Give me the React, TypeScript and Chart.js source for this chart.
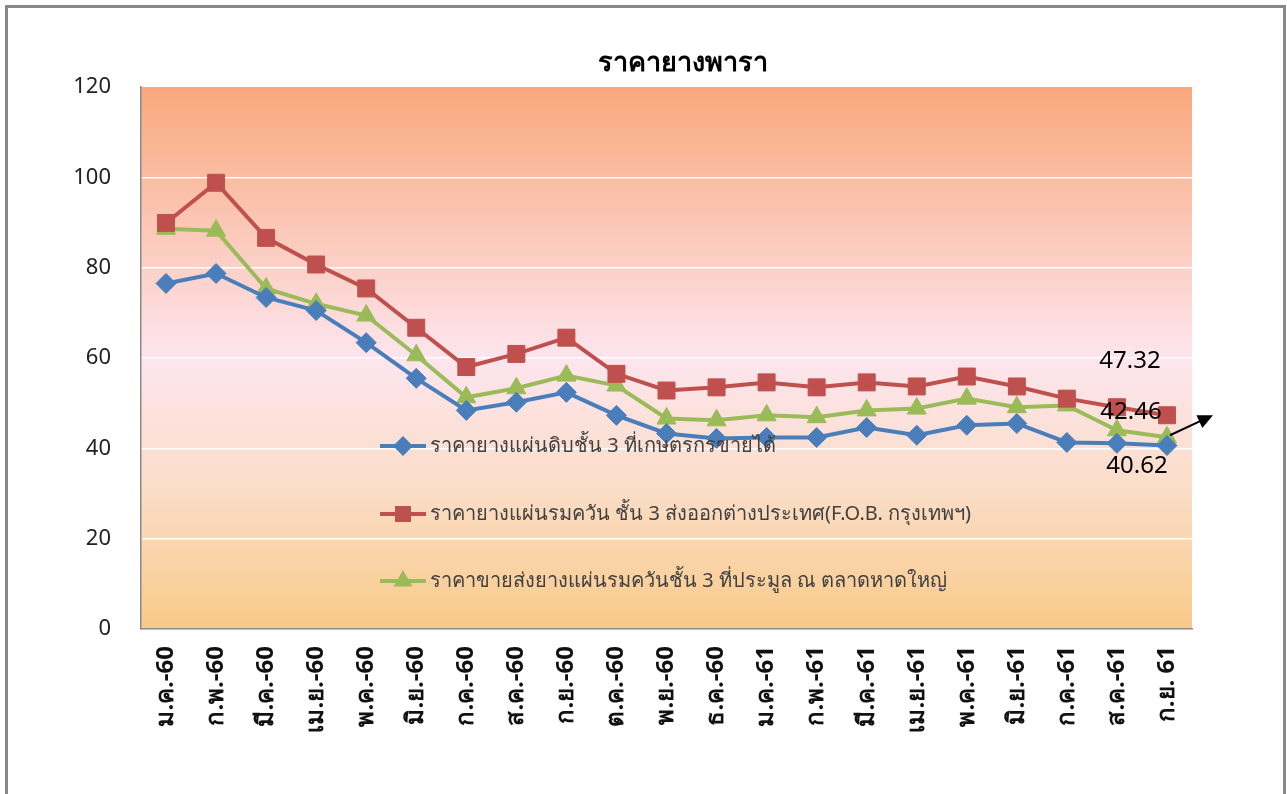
import React, { useEffect, useRef } from "react";
import { Chart, registerables } from "chart.js";
Chart.register(...registerables);

const categories = [
  "ม.ค.-60", "ก.พ.-60", "มี.ค.-60", "เม.ย.-60", "พ.ค.-60", "มิ.ย.-60", "ก.ค.-60",
  "ส.ค.-60", "ก.ย.-60", "ต.ค.-60", "พ.ย.-60", "ธ.ค.-60", "ม.ค.-61", "ก.พ.-61",
  "มี.ค.-61", "เม.ย.-61", "พ.ค.-61", "มิ.ย.-61", "ก.ค.-61", "ส.ค.-61", "ก.ย. 61",
];

const farmerPrice = [76.5, 78.7, 73.4, 70.5, 63.4, 55.5, 48.4, 50.2, 52.4, 47.3, 43.3, 42.2, 42.4, 42.4, 44.6, 42.9, 45.1, 45.5, 41.3, 41.1, 40.62];
const fobPrice = [89.9, 98.8, 86.6, 80.7, 75.4, 66.7, 58.0, 60.9, 64.5, 56.5, 52.8, 53.5, 54.6, 53.5, 54.6, 53.7, 55.9, 53.7, 51.0, 49.1, 47.32];
const hatyaiPrice = [88.6, 88.2, 75.4, 72.0, 69.4, 60.6, 51.3, 53.3, 56.1, 53.9, 46.6, 46.2, 47.3, 46.9, 48.4, 48.8, 51.0, 49.1, 49.5, 44.0, 42.46];

const seriesNames = [
  "ราคายางแผ่นดิบชั้น 3 ที่เกษตรกรขายได้",
  "ราคายางแผ่นรมควัน ชั้น 3 ส่งออกต่างประเทศ(F.O.B. กรุงเทพฯ)",
  "ราคาขายส่งยางแผ่นรมควันชั้น 3 ที่ประมูล ณ ตลาดหาดใหญ่",
];
const titleText = "ราคายางพารา";
const yTickMin = 0;
const yTickMax = 120;
const yTickStep = 20;

const FONT = "Tahoma, 'Noto Sans', 'DejaVu Sans', sans-serif";
const BLUE = "#4A7EBB";
const RED = "#C0504D";
const GREEN = "#9BBB59";

export default function App() {
  const ref = useRef<HTMLCanvasElement>(null);

  useEffect(() => {
    document.body.style.margin = "0";
    const canvas = ref.current!;

    function drawMarker(ctx: CanvasRenderingContext2D, style: string, x: number, y: number, color: string) {
      ctx.fillStyle = color;
      ctx.beginPath();
      if (style === "rectRot") {
        ctx.moveTo(x, y - 10);
        ctx.lineTo(x + 10, y);
        ctx.lineTo(x, y + 10);
        ctx.lineTo(x - 10, y);
      } else if (style === "rect") {
        ctx.rect(x - 8, y - 8, 16, 16);
      } else {
        ctx.moveTo(x, y - 11);
        ctx.lineTo(x + 9.5, y + 5.5);
        ctx.lineTo(x - 9.5, y + 5.5);
      }
      ctx.closePath();
      ctx.fill();
    }

    const decor = {
      id: "decor",
      beforeDraw(chart: any) {
        const { ctx, chartArea: a } = chart;
        const g = ctx.createLinearGradient(0, a.top, 0, a.bottom);
        g.addColorStop(0, "rgb(249,168,124)");
        g.addColorStop(0.5, "rgb(253,229,238)");
        g.addColorStop(0.75, "rgb(251,221,198)");
        g.addColorStop(1, "rgb(249,202,136)");
        ctx.save();
        ctx.fillStyle = g;
        ctx.fillRect(a.left, a.top, a.right - a.left, a.bottom - a.top);
        ctx.restore();
      },
      afterDraw(chart: any) {
        const { ctx } = chart;
        const xs = chart.scales.x;
        const ys = chart.scales.y;
        ctx.save();
        // title
        ctx.fillStyle = "#000";
        ctx.font = `bold 27px ${FONT}`;
        ctx.textAlign = "center";
        ctx.textBaseline = "middle";
        ctx.fillText(titleText, 683, 63);

        // legend
        const colors = [BLUE, RED, GREEN];
        const styles = ["rectRot", "rect", "triangle"];
        const legendY = [446, 514, 581];
        for (let i = 0; i < 3; i++) {
          const y = legendY[i];
          ctx.strokeStyle = colors[i];
          ctx.lineWidth = 4;
          ctx.beginPath();
          ctx.moveTo(380, y);
          ctx.lineTo(426, y);
          ctx.stroke();
          drawMarker(ctx, styles[i], 403, y, colors[i]);
          ctx.fillStyle = "#404040";
          ctx.font = `20px ${FONT}`;
          ctx.textAlign = "left";
          ctx.textBaseline = "middle";
          ctx.fillText(seriesNames[i], 430, y);
        }

        // value annotations for last point
        const last = categories.length - 1;
        const xl = xs.getPixelForValue(last);
        const yr = ys.getPixelForValue(fobPrice[last]);
        const yg = ys.getPixelForValue(hatyaiPrice[last]);
        const yb = ys.getPixelForValue(farmerPrice[last]);
        ctx.fillStyle = "#000";
        ctx.font = `24px ${FONT}`;
        ctx.textAlign = "center";
        ctx.textBaseline = "middle";
        ctx.fillText(fobPrice[last].toFixed(2), xl - 37, yr - 54);
        ctx.fillText(hatyaiPrice[last].toFixed(2), xl - 36, yg - 25);
        ctx.fillText(farmerPrice[last].toFixed(2), xl - 30, yb + 21);

        // arrow
        const x0 = xl + 3, y0 = yg - 2, x1 = xl + 46, y1 = yg - 22;
        const ang = Math.atan2(y1 - y0, x1 - x0);
        ctx.strokeStyle = "#000";
        ctx.lineWidth = 2;
        ctx.beginPath();
        ctx.moveTo(x0, y0);
        ctx.lineTo(x1 - 10 * Math.cos(ang), y1 - 10 * Math.sin(ang));
        ctx.stroke();
        ctx.fillStyle = "#000";
        ctx.beginPath();
        ctx.moveTo(x1, y1);
        ctx.lineTo(x1 - 15 * Math.cos(ang) + 7 * Math.sin(ang), y1 - 15 * Math.sin(ang) - 7 * Math.cos(ang));
        ctx.lineTo(x1 - 15 * Math.cos(ang) - 7 * Math.sin(ang), y1 - 15 * Math.sin(ang) + 7 * Math.cos(ang));
        ctx.closePath();
        ctx.fill();
        ctx.restore();
      },
    };

    const mk = (label: string, data: number[], color: string, style: string, r: number) => ({
      label,
      data,
      borderColor: color,
      backgroundColor: color,
      borderWidth: 4,
      pointStyle: style,
      pointRadius: r,
      pointBorderWidth: 1,
      pointBackgroundColor: color,
      pointBorderColor: color,
      tension: 0,
    });

    const chart = new Chart(canvas, {
      type: "line",
      data: {
        labels: categories,
        datasets: [
          mk(seriesNames[0], farmerPrice, BLUE, "rectRot", 10),
          mk(seriesNames[1], fobPrice, RED, "rect", 12),
          mk(seriesNames[2], hatyaiPrice, GREEN, "triangle", 11),
        ],
      },
      options: {
        responsive: false,
        devicePixelRatio: 1,
        animation: false,
        layout: { padding: { top: 87, right: 95, left: 0, bottom: 0 } },
        plugins: {
          legend: { display: false },
          title: { display: false },
          tooltip: { enabled: false },
        },
        scales: {
          x: {
            type: "category",
            offset: true,
            grid: { display: false, drawTicks: false, offset: true },
            border: { display: true, color: "#8a8a8a", width: 1.5 },
            ticks: {
              autoSkip: false,
              minRotation: 90,
              maxRotation: 90,
              padding: 17,
              color: "#111",
              font: { size: 24, weight: "bold", family: FONT },
            },
            afterFit: (s: any) => {
              s.height = 165;
            },
          },
          y: {
            min: yTickMin,
            max: yTickMax,
            grid: {
              drawTicks: false,
              lineWidth: 1.5,
              color: (c: any) =>
                c.tick && c.tick.value > yTickMin && c.tick.value < yTickMax ? "#ffffff" : "rgba(0,0,0,0)",
            },
            border: { display: true, color: "#8a8a8a", width: 1.5 },
            ticks: {
              stepSize: yTickStep,
              padding: 30,
              color: "#222",
              font: { size: 22, family: FONT },
            },
            afterFit: (s: any) => {
              s.width = 141;
            },
          },
        },
      },
      plugins: [decor],
    } as any);

    return () => chart.destroy();
  }, []);

  return (
    <div style={{ position: "relative", width: 1287, height: 794, overflow: "hidden", background: "#fff" }}>
      <div
        style={{
          position: "absolute",
          left: 5,
          top: 5,
          width: 1275,
          height: 820,
          borderLeft: "3px solid #888",
          borderTop: "3px solid #888",
          borderRight: "3px solid #888",
        }}
      />
      <canvas ref={ref} width={1287} height={794} style={{ position: "absolute", left: 0, top: 0 }} />
    </div>
  );
}
